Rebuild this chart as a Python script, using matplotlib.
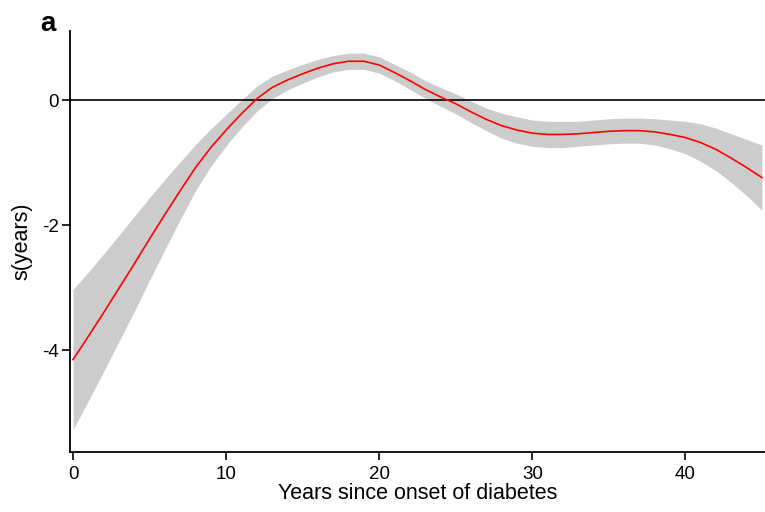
import numpy as np
import matplotlib
matplotlib.use("Agg")
from matplotlib import pyplot as plt

plt.rcParams['font.family'] = ['Liberation Sans', 'DejaVu Sans']

# smooth term s(years), one value per year
years = list(range(0, 46))
fit = [-4.15, -3.78, -3.40, -3.01, -2.62, -2.22, -1.83, -1.45, -1.08, -0.76,
       -0.48, -0.22, 0.02, 0.20, 0.32, 0.42, 0.51, 0.58, 0.62, 0.62,
       0.56, 0.44, 0.31, 0.17, 0.05, -0.06, -0.19, -0.31, -0.41, -0.48,
       -0.53, -0.55, -0.55, -0.54, -0.52, -0.50, -0.49, -0.49, -0.51, -0.55,
       -0.60, -0.68, -0.79, -0.93, -1.08, -1.24]
# half width of the confidence band
half_band = [1.12, 1.03, 0.94, 0.85, 0.76, 0.66, 0.56, 0.46, 0.37, 0.30,
             0.25, 0.22, 0.20, 0.18, 0.16, 0.15, 0.14, 0.13, 0.13, 0.13,
             0.13, 0.13, 0.14, 0.14, 0.15, 0.16, 0.17, 0.18, 0.20, 0.21,
             0.21, 0.21, 0.21, 0.20, 0.20, 0.20, 0.20, 0.20, 0.21, 0.23,
             0.26, 0.30, 0.34, 0.39, 0.45, 0.52]
xticks = [0, 10, 20, 30, 40]
yticks = [0, -2, -4]

x = np.array(years)
f = np.array(fit)
hb = np.array(half_band)

fig = plt.figure(figsize=(7.65, 5.12), dpi=100)
ax = fig.add_axes([0.0915, 0.117, 0.9085, 0.822])

ax.fill_between(x, f - hb, f + hb, color='#cccccc', lw=0, zorder=1)
ax.plot(x, f, color='red', lw=1.2, zorder=3)
ax.axhline(0, color='black', lw=1.2, zorder=2)

ax.set_xlim(-0.2, 45.2)
ax.set_ylim(-5.63, 1.1)
ax.set_xticks(xticks)
ax.set_yticks(yticks)
ax.set_yticklabels([str(v) for v in yticks])
ax.tick_params(direction='out', length=6, width=1.2, labelsize=13.5)
ax.tick_params(axis='x', pad=4)
ax.tick_params(axis='y', pad=2)

for side in ['top', 'right']:
    ax.spines[side].set_visible(False)
for side in ['left', 'bottom']:
    ax.spines[side].set_linewidth(1.3)

ax.set_xlabel('Years since onset of diabetes', fontsize=15.5, labelpad=0)
ax.set_ylabel('s(years)', fontsize=15.5, labelpad=7)

fig.text(0.052, 0.94, 'a', fontsize=20, fontweight='bold', ha='left', va='baseline')

plt.savefig('out.png', dpi=100)
